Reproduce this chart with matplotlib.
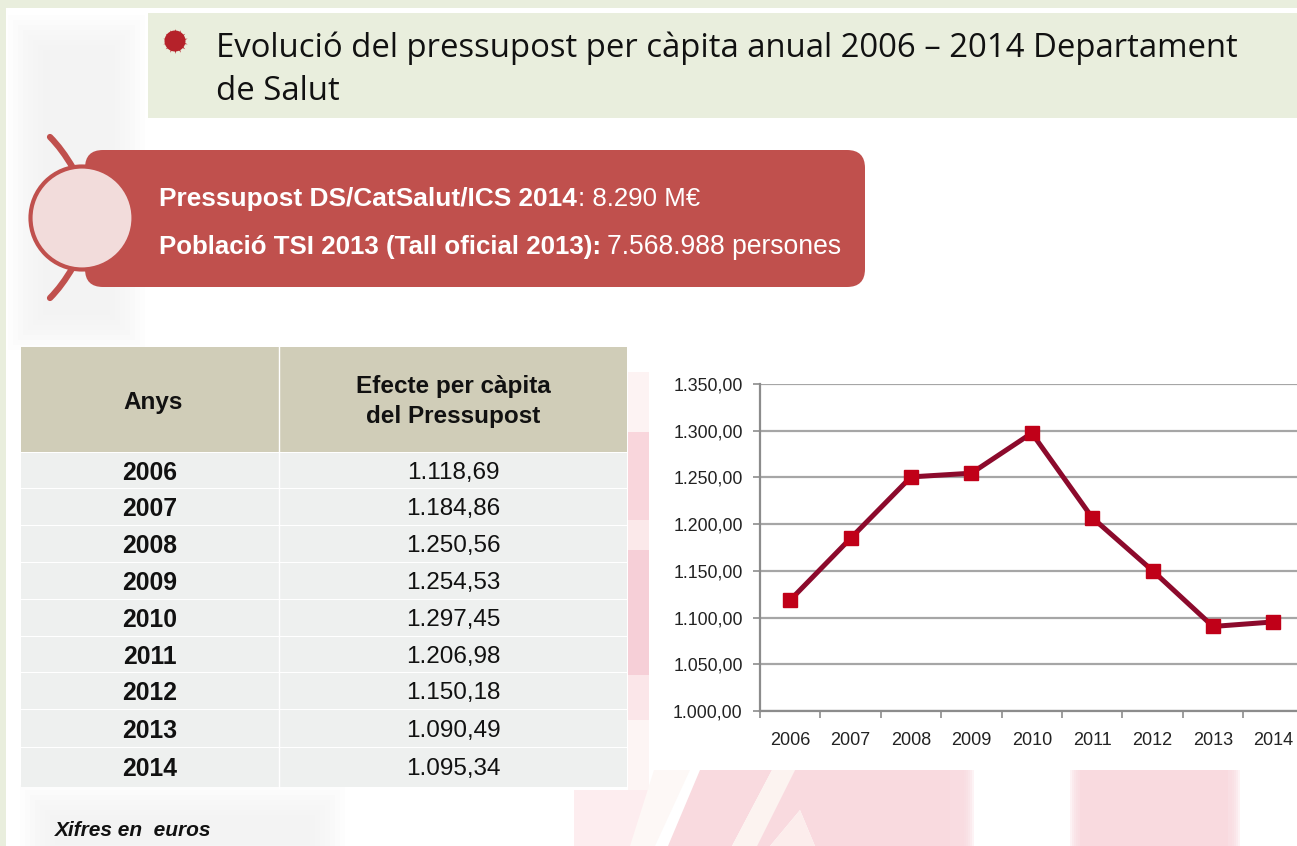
import matplotlib
matplotlib.use("Agg")
import matplotlib.pyplot as plt
from matplotlib.patches import Rectangle, FancyBboxPatch, Circle, PathPatch, Polygon
from matplotlib.path import Path

anys = ["2006", "2007", "2008", "2009", "2010", "2011", "2012", "2013", "2014"]
efecte = [1118.69, 1184.86, 1250.56, 1254.53, 1297.45, 1206.98, 1150.18, 1090.49, 1095.34]
efecte_txt = ["1.118,69", "1.184,86", "1.250,56", "1.254,53", "1.297,45",
              "1.206,98", "1.150,18", "1.090,49", "1.095,34"]
y_ticks = [1000, 1050, 1100, 1150, 1200, 1250, 1300, 1350]
y_labels = ["1.000,00", "1.050,00", "1.100,00", "1.150,00", "1.200,00",
            "1.250,00", "1.300,00", "1.350,00"]

W, H = 1297, 846
plt.rcParams["font.family"] = ["Liberation Sans", "DejaVu Sans"]

fig = plt.figure(figsize=(W / 100, H / 100), dpi=100, facecolor="white")

# capa de fons en pixels
bg = fig.add_axes([0, 0, 1, 1])
bg.set_xlim(0, W)
bg.set_ylim(H, 0)
bg.axis("off")


def taca(x0, y0, x1, y1, color, vora=6, pas_vora=2, alpha=0.3):
    # rectangle amb la vora difuminada
    for k in range(vora):
        bg.add_patch(Rectangle((x0 + k * pas_vora, y0 + k * pas_vora),
                               x1 - x0 - 2 * k * pas_vora, y1 - y0 - 2 * k * pas_vora,
                               color=color, lw=0, alpha=alpha))


# marc verd
bg.add_patch(Rectangle((0, 0), W, 8, color="#E9EEDD", lw=0))
bg.add_patch(Rectangle((0, 0), 6, H, color="#E9EEDD", lw=0))

# marca d'aigua grisa
taca(8, 15, 145, 350, "#F0F0F0", 8, 5, 0.12)
taca(20, 785, 345, 880, "#F0F0F0", 8, 5, 0.12)

# marca d'aigua rosa
rosa = "#F9DADF"
bg.add_patch(Rectangle((628, 372), 21, 60, color="#FDF3F3", lw=0))
bg.add_patch(Rectangle((628, 432), 21, 88, color="#F9D6DC", lw=0))
bg.add_patch(Rectangle((628, 520), 21, 30, color="#FBE9EA", lw=0))
bg.add_patch(Rectangle((628, 550), 21, 125, color="#F6CFD7", lw=0))
bg.add_patch(Rectangle((628, 675), 21, 45, color="#FBE6E9", lw=0))
bg.add_patch(Rectangle((628, 720), 21, 126, color="#FDF5F4", lw=0))
bg.add_patch(Rectangle((574, 790), 80, 56, color="#FDEDEF", lw=0))
bg.add_patch(Polygon([(654, 770), (690, 770), (655, 846), (630, 846)], color="#FDF8F6", lw=0))
bg.add_patch(Polygon([(700, 770), (772, 770), (732, 846), (668, 846)], color=rosa, lw=0))
bg.add_patch(Polygon([(772, 770), (795, 770), (757, 846), (732, 846)], color="#FCF3F0", lw=0))
bg.add_patch(Polygon([(795, 770), (950, 770), (950, 846), (815, 846), (800, 810), (770, 846), (757, 846)],
                     color=rosa, lw=0))
bg.add_patch(Polygon([(800, 810), (815, 846), (770, 846)], color="#FCEDEC", lw=0))
taca(940, 750, 974, 870, rosa, 6)
taca(1070, 750, 1240, 870, rosa, 5)
bg.add_patch(Rectangle((1080, 770), 148, 76, color=rosa, lw=0))

# titol
bg.add_patch(Rectangle((148, 13), W - 148, 105, color="#E9EEDD", lw=0))
bg.plot([175], [41], marker=(14, 1, 0), ms=18, color="#B5222A", mew=0)
bg.add_patch(Circle((175, 41), 10.5, color="#B5222A", lw=0))
bg.add_patch(Circle((177, 41), 5, color="#DC3A32", lw=0))
bg.text(216, 48, "Evolució del pressupost per càpita anual 2006 – 2014 Departament",
        fontsize=23.65, family=["Open Sans", "DejaVu Sans"], color="#111111", va="center")
bg.text(216, 92, "de Salut", fontsize=23.65, family=["Open Sans", "DejaVu Sans"],
        color="#111111", va="center")

# caixa vermella
vermell = "#C0504D"
for p0, p1, p2 in [((50, 137), (62, 149), (73, 168)), ((50, 298), (62, 286), (73, 267))]:
    arc = Path([p0, p1, p2], [Path.MOVETO, Path.CURVE3, Path.CURVE3])
    bg.add_patch(PathPatch(arc, fc="none", ec=vermell, lw=4.5, capstyle="round"))
bg.add_patch(FancyBboxPatch((85, 150), 780, 137, boxstyle="round,pad=0,rounding_size=18",
                            fc=vermell, ec="none"))
bg.add_patch(Circle((82, 218), 51.5, fc="#F2DCDB", ec=vermell, lw=3))
bg.text(159, 199, "Pressupost DS/CatSalut/ICS 2014", fontsize=18.9, fontweight="bold",
        color="white", va="center")
bg.text(578, 199, ": 8.290 M€", fontsize=18.6, color="white", va="center")
bg.text(159, 247, "Població TSI 2013 (Tall oficial 2013):", fontsize=18.6, fontweight="bold",
        color="white", va="center")
bg.text(607, 247, "7.568.988 persones", fontsize=19.1, color="white", va="center")

# taula
x_l, x_m, x_r = 21, 279, 627
bg.add_patch(Rectangle((x_l, 347), x_r - x_l, 105, color="#D0CDB8", lw=0))
files = [453, 489, 526, 563, 600, 637, 673, 710, 748, 788]
for i, a in enumerate(anys):
    bg.add_patch(Rectangle((x_l, files[i]), x_r - x_l, files[i + 1] - files[i] - 1,
                           color="#EEF0EF", lw=0))
    yc = (files[i] + files[i + 1]) / 2 + 1.5
    bg.text(150, yc, a, fontsize=17.8, fontweight="bold", color="#111111", ha="center", va="center")
    bg.text(453.5, yc, efecte_txt[i], fontsize=17.5, color="#111111", ha="center", va="center")
bg.plot([x_m, x_m], [347, 788], color="white", lw=1)
bg.text(153, 402, "Anys", fontsize=17.5, fontweight="bold", color="#111111", ha="center", va="center")
bg.text(453.5, 387, "Efecte per càpita", fontsize=17.5, fontweight="bold", color="#111111",
        ha="center", va="center")
bg.text(453.5, 417, "del Pressupost", fontsize=17.5, fontweight="bold", color="#111111",
        ha="center", va="center")
bg.text(55, 831, "Xifres en  euros", fontsize=15, fontstyle="italic", fontweight="bold",
        color="#111111", va="center")

# panell blanc del grafic
bg.add_patch(Rectangle((649, 360), W - 649, 410, color="white", lw=0))

# grafic
ax = fig.add_axes([760 / W, 1 - 711 / H, (W - 760) / W, (711 - 384) / H])
ax.patch.set_alpha(0)
pas = 60.4
x = list(range(len(anys)))
ax.plot(x, efecte, color="#8C0A2C", lw=3.6, marker="s", ms=9.5, mfc="#C00018", mec="#C00018",
        clip_on=False, zorder=3)
ax.set_yticks(y_ticks)
ax.set_yticklabels(y_labels)
ax.set_xticks([i - 0.5 for i in range(9)])
ax.set_xticklabels([])
ax.set_xticks(x, minor=True)
ax.set_xticklabels(anys, minor=True)
ax.set_xlim(-0.5, (W - 760) / pas - 0.5)
ax.set_ylim(1000, 1350)
ax.tick_params(axis="x", which="major", length=5, width=1.2, color="#8C8C8C")
ax.tick_params(axis="x", which="minor", length=0, pad=15, labelsize=13, labelcolor="#222222")
ax.tick_params(axis="y", length=5, width=1.2, color="#8C8C8C", labelsize=12.8,
               labelcolor="#222222", pad=7.5)
ax.grid(True, axis="y", color="#A6A6A6", lw=1.6, zorder=1)
ax.set_axisbelow(True)
for lado in ["top", "right"]:
    ax.spines[lado].set_visible(False)
ax.spines["left"].set_color("#8C8C8C")
ax.spines["left"].set_linewidth(1.6)
ax.spines["bottom"].set_color("#8C8C8C")
ax.spines["bottom"].set_linewidth(1.6)

fig.savefig("out.png", dpi=100)
